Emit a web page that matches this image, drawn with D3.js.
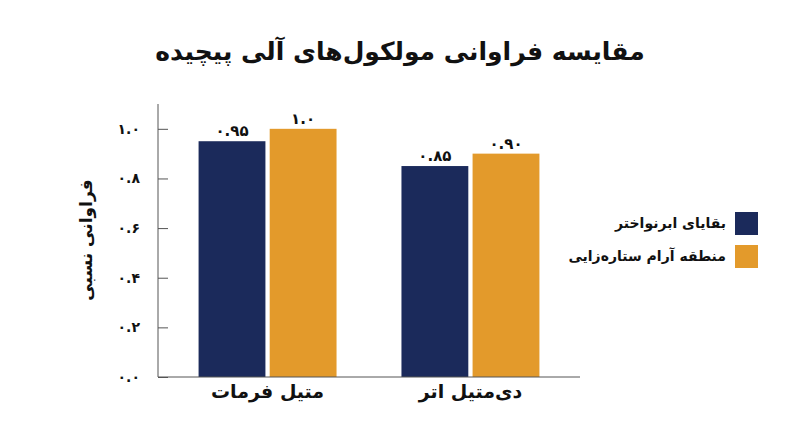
<!DOCTYPE html>
<html><head><meta charset="utf-8">
<script src="https://cdn.jsdelivr.net/npm/d3@7"></script>
<style>body{margin:0;background:#fff}text{font-family:"DejaVu Sans","Noto Sans",sans-serif}</style>
</head><body><svg width="800" height="447"></svg>
<script>
const categories = ["متیل فرمات", "دی‌متیل اتر"];
const seriesNames = ["بقایای ابرنواختر", "منطقه آرام ستاره‌زایی"];
const seriesValues = [[0.95, 0.85], [1.0, 0.90]];
const valueLabels = [["۰.۹۵", "۰.۸۵"], ["۱.۰", "۰.۹۰"]];
const tickValues = [0, 0.2, 0.4, 0.6, 0.8, 1.0];
const tickLabels = ["۰.۰", "۰.۲", "۰.۴", "۰.۶", "۰.۸", "۱.۰"];
const colors = ["#1b2a5b", "#e39a2b"];

const svg = d3.select("svg");
const x0 = d3.scaleBand().domain(categories).range([158, 580]).paddingInner(0.32).paddingOuter(0.2);
const x1 = d3.scaleBand().domain([0, 1]).range([0, x0.bandwidth()]).paddingInner(0.06);
const y = d3.scaleLinear().domain([0, 1.1]).range([377, 104]);

svg.append("text").attr("x", 400).attr("y", 60).attr("text-anchor", "middle")
  .attr("font-size", 25).attr("font-weight", "bold").attr("fill", "#111").text("مقایسه فراوانی مولکول‌های آلی پیچیده");

categories.forEach((c, ci) => {
  seriesValues.forEach((vals, si) => {
    const bx = x0(c) + x1(si);
    svg.append("rect").attr("x", bx).attr("y", y(vals[ci])).attr("width", x1.bandwidth())
      .attr("height", y(0) - y(vals[ci])).attr("fill", colors[si]);
    svg.append("text").attr("x", bx + x1.bandwidth() / 2).attr("y", y(vals[ci]) - 5)
      .attr("text-anchor", "middle").attr("font-size", 15).attr("font-weight", "bold").attr("fill", "#111").text(valueLabels[si][ci]);
  });
});

const yAxis = svg.append("g").attr("transform", "translate(158,0)")
  .call(d3.axisRight(y).tickValues(tickValues).tickFormat((d, i) => tickLabels[i]).tickSize(10).tickSizeOuter(0));
yAxis.select(".domain").attr("d", "M0,104V377").attr("stroke", "#555");
yAxis.selectAll(".tick line").attr("stroke", "#555");
yAxis.selectAll(".tick text").attr("x", -18).attr("text-anchor", "end").attr("font-size", 14).attr("font-weight", "bold").attr("fill", "#111");

const xAxis = svg.append("g").attr("transform", "translate(0,377)").call(d3.axisBottom(x0).tickSize(0));
xAxis.select(".domain").attr("d", "M158,0H580").attr("stroke", "#555");
xAxis.selectAll(".tick text").attr("dy", 18).attr("font-size", 19).attr("font-weight", "bold").attr("fill", "#111");

svg.append("text").attr("transform", "translate(92,240) rotate(-90)").attr("text-anchor", "middle")
  .attr("font-size", 17).attr("font-weight", "bold").attr("fill", "#111").text("فراوانی نسبی");

seriesNames.forEach((n, i) => {
  const ly = 212 + i * 33;
  svg.append("rect").attr("x", 735).attr("y", ly).attr("width", 23).attr("height", 23).attr("fill", colors[i]);
  svg.append("text").attr("x", 726).attr("y", ly + 16).attr("text-anchor", "end")
    .attr("font-size", 14).attr("font-weight", "bold").attr("fill", "#111").text(n);
});
</script></body></html>
